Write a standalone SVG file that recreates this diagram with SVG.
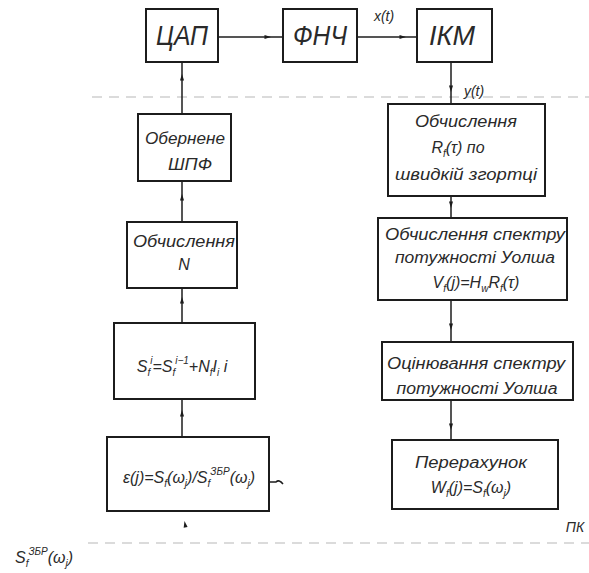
<svg xmlns="http://www.w3.org/2000/svg" width="589" height="573" viewBox="0 0 589 573">
<style>
.box{fill:#fff;stroke:#1c1c1c;stroke-width:2}
.t{font-family:"Liberation Sans","DejaVu Sans",sans-serif;font-style:italic;fill:#2a2a2a;text-anchor:middle}
.big{font-size:28px}
.m{font-size:16px}
.sm{font-size:14px}
.sb{font-size:10px}
.ln{stroke:#1c1c1c;stroke-width:1.5;fill:none}
.dash{stroke:#d0d0d0;stroke-width:1.5;stroke-dasharray:10 7;fill:none}
.ah{fill:#1c1c1c}
</style>
<defs>
<path id="ah" d="M-3.5,-2 L3,0 L-3.5,2 Z"/>
</defs>
<g id="guides">
<line class="dash" x1="92" y1="97" x2="589" y2="97"/>
<line class="dash" x1="88" y1="543" x2="589" y2="543"/>
</g>
<g id="connectors">
<line class="ln" x1="218" y1="37" x2="283" y2="37"/>
<use href="#ah" class="ah" transform="translate(268,37)"/>
<line class="ln" x1="357" y1="37" x2="417" y2="37"/>
<use href="#ah" class="ah" transform="translate(403,37)"/>
<line class="ln" x1="182" y1="62" x2="182" y2="114"/>
<use href="#ah" class="ah" transform="translate(182,77) rotate(-90)"/>
<line class="ln" x1="182" y1="181" x2="182" y2="222"/>
<use href="#ah" class="ah" transform="translate(182,197) rotate(-90)"/>
<line class="ln" x1="182" y1="288" x2="182" y2="323"/>
<use href="#ah" class="ah" transform="translate(182,300) rotate(-90)"/>
<line class="ln" x1="182" y1="399" x2="182" y2="437"/>
<use href="#ah" class="ah" transform="translate(182,413) rotate(-90)"/>
<line class="ln" x1="451" y1="62" x2="451" y2="104"/>
<use href="#ah" class="ah" transform="translate(451,89) rotate(90)"/>
<line class="ln" x1="451" y1="196" x2="451" y2="218"/>
<use href="#ah" class="ah" transform="translate(451,205) rotate(90)"/>
<line class="ln" x1="451" y1="300" x2="451" y2="342"/>
<use href="#ah" class="ah" transform="translate(451,327) rotate(90)"/>
<line class="ln" x1="451" y1="400" x2="451" y2="440"/>
<use href="#ah" class="ah" transform="translate(451,427) rotate(90)"/>
<path class="ln" d="M269,482 L276,482 Q279,479 283,484"/>
<use href="#ah" class="ah" transform="translate(185,524) rotate(-100)"/>
</g>
<g id="dac">
<rect class="box" x="146" y="9" width="72" height="53"/>
<text class="t big" x="182" y="45" textLength="52" lengthAdjust="spacingAndGlyphs">ЦАП</text>
</g>
<g id="lpf">
<rect class="box" x="283" y="9" width="74" height="53"/>
<text class="t big" x="320" y="45" textLength="54" lengthAdjust="spacingAndGlyphs">ФНЧ</text>
</g>
<g id="ikm">
<rect class="box" x="417" y="9" width="75" height="53"/>
<text class="t big" x="452" y="45" textLength="46" lengthAdjust="spacingAndGlyphs">ІКМ</text>
</g>
<g id="ifft">
<rect class="box" x="138" y="114" width="93" height="67"/>
<text class="t m" x="185" y="144" textLength="80" lengthAdjust="spacingAndGlyphs">Обернене</text>
<text class="t m" x="190" y="170" textLength="44" lengthAdjust="spacingAndGlyphs">ШПФ</text>
</g>
<g id="calcN">
<rect class="box" x="127" y="222" width="110" height="66"/>
<text class="t m" x="184" y="247" textLength="102" lengthAdjust="spacingAndGlyphs">Обчислення</text>
<text class="t m" x="184" y="270">N</text>
</g>
<g id="accum">
<rect class="box" x="114" y="323" width="141" height="76"/>
<text class="t m" x="182" y="372">S<tspan class="sb" dy="4">f</tspan><tspan class="sb" dy="-12">i</tspan><tspan dy="8">=S</tspan><tspan class="sb" dy="4">f</tspan><tspan class="sb" dy="-12">i−1</tspan><tspan dy="8">+N</tspan><tspan class="sb" dy="4">f</tspan><tspan dy="-4">I</tspan><tspan class="sb" dy="4">i</tspan><tspan dy="-4">   i</tspan></text>
</g>
<g id="ratio">
<rect class="box" x="107" y="437" width="162" height="74"/>
<text class="t m" x="189" y="483">ε(j)=S<tspan class="sb" dy="4">f</tspan><tspan dy="-4">(ω</tspan><tspan class="sb" dy="4">j</tspan><tspan dy="-4">)/S</tspan><tspan class="sb" dy="4">f</tspan><tspan class="sb" dy="-12">ЗБР</tspan><tspan dy="8">(ω</tspan><tspan class="sb" dy="4">j</tspan><tspan dy="-4">)</tspan></text>
</g>
<g id="corr">
<rect class="box" x="388" y="104" width="157" height="92"/>
<text class="t m" x="466" y="127" textLength="102" lengthAdjust="spacingAndGlyphs">Обчислення</text>
<text class="t m" x="458" y="153">R<tspan class="sb" dy="4">f</tspan><tspan dy="-4">(τ) по</tspan></text>
<text class="t m" x="466" y="180" textLength="142" lengthAdjust="spacingAndGlyphs">швидкій згортці</text>
</g>
<g id="walsh">
<rect class="box" x="378" y="218" width="189" height="82"/>
<text class="t m" x="475" y="240" textLength="180" lengthAdjust="spacingAndGlyphs">Обчислення спектру</text>
<text class="t m" x="475" y="263" textLength="160" lengthAdjust="spacingAndGlyphs">потужності Уолша</text>
<text class="t m" x="476" y="288">V<tspan class="sb" dy="4">f</tspan><tspan dy="-4">(j)=H</tspan><tspan class="sb" dy="4">w</tspan><tspan dy="-4">R</tspan><tspan class="sb" dy="4">f</tspan><tspan dy="-4">(τ)</tspan></text>
</g>
<g id="estim">
<rect class="box" x="382" y="342" width="191" height="58"/>
<text class="t m" x="476" y="369" textLength="178" lengthAdjust="spacingAndGlyphs">Оцінювання спектру</text>
<text class="t m" x="477" y="394" textLength="161" lengthAdjust="spacingAndGlyphs">потужності Уолша</text>
</g>
<g id="recalc">
<rect class="box" x="392" y="440" width="166" height="69"/>
<text class="t m" x="471" y="468" textLength="112" lengthAdjust="spacingAndGlyphs">Перерахунок</text>
<text class="t m" x="471" y="493">W<tspan class="sb" dy="4">f</tspan><tspan dy="-4">(j)=S</tspan><tspan class="sb" dy="4">f</tspan><tspan dy="-4">(ω</tspan><tspan class="sb" dy="4">j</tspan><tspan dy="-4">)</tspan></text>
</g>
<g id="labels">
<text class="t sm" x="384" y="21">x(t)</text>
<text class="t sm" x="474" y="96">y(t)</text>
<text class="t sm" x="575" y="532">ПК</text>
<text class="t m" x="15" y="563" style="text-anchor:start">S<tspan class="sb" dy="4">f</tspan><tspan class="sb" dy="-12">ЗБР</tspan><tspan dy="8">(ω</tspan><tspan class="sb" dy="4">j</tspan><tspan dy="-4">)</tspan></text>
</g>
</svg>
